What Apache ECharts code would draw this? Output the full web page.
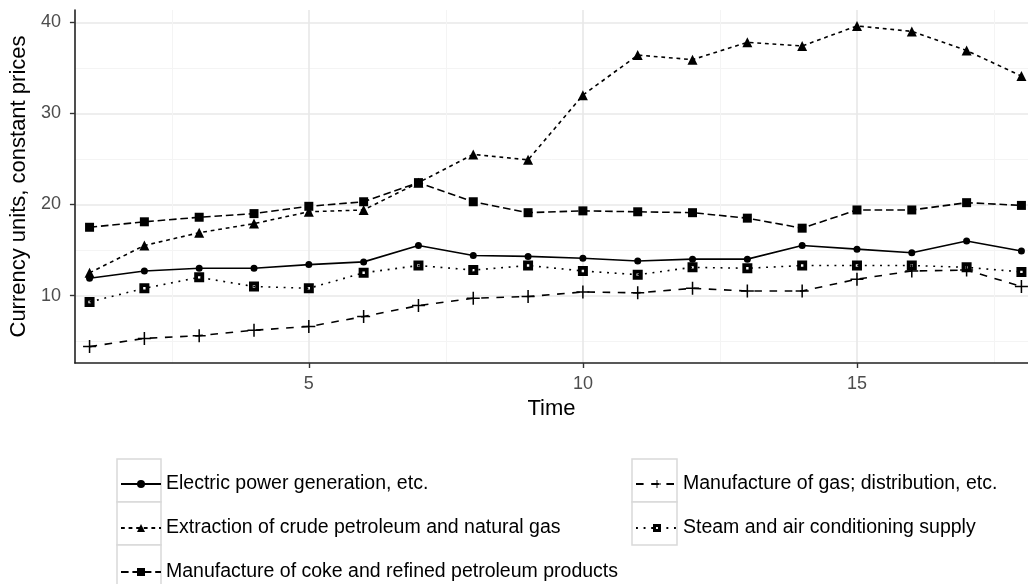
<!DOCTYPE html>
<html><head><meta charset="utf-8">
<script src="https://cdn.jsdelivr.net/npm/echarts@6/dist/echarts.min.js"></script>
<style>html,body{margin:0;padding:0;background:#fff}#c{width:1028px;height:584px}</style>
</head><body><div id="c"></div>
<script>
const time = [1,2,3,4,5,6,7,8,9,10,11,12,13,14,15,16,17,18];
const names = [
  'Electric power generation, etc.',
  'Extraction of crude petroleum and natural gas',
  'Manufacture of coke and refined petroleum products',
  'Manufacture of gas; distribution, etc.',
  'Steam and air conditioning supply'
];
const electric   = [11.9,12.7,13.0,13.0,13.4,13.7,15.5,14.4,14.3,14.1,13.8,14.0,14.0,15.5,15.1,14.7,16.0,14.9];
const extraction = [12.5,15.5,16.9,17.9,19.2,19.4,22.4,25.5,24.9,32.0,36.4,35.9,37.8,37.4,39.6,39.0,36.9,34.1];
const coke       = [17.5,18.1,18.6,19.0,19.8,20.3,22.4,20.3,19.1,19.3,19.2,19.1,18.5,17.4,19.4,19.4,20.2,19.9];
const gas        = [4.4,5.3,5.6,6.2,6.6,7.7,8.9,9.7,9.9,10.4,10.3,10.8,10.5,10.5,11.8,12.7,12.8,11.0];
const steam      = [9.3,10.8,12.0,11.0,10.8,12.5,13.3,12.8,13.3,12.7,12.3,13.1,13.0,13.3,13.3,13.3,13.1,12.6];
const xTicks = [5,10,15];
const xMinor = [2.5,7.5,12.5,17.5];
const yTicks = [10,20,30,40];
const yMinor = [5,15,25,35];

const FONT = 'Liberation Sans, Arial, sans-serif';
const XMIN = 0.733, XMAX = 18.12, YMIN = 2.6, YMAX = 41.35;
const plusPath = 'path://M5.3,0h1.4v5.3h5.3v1.4h-5.3v5.3h-1.4v-5.3h-5.3v-1.4h5.3z';
const steamPath = 'path://M0,0H10V10H0Z M3.8,3.8V6.2H6.2V3.8Z';

const styles = [
  {data: electric,   symbol: 'circle',   size: 7,  dash: 'solid'},
  {data: extraction, symbol: 'triangle', size: 10, dash: [3.8,3.8]},
  {data: coke,       symbol: 'rect',     size: 9,  dash: [7.6,3.8]},
  {data: gas,        symbol: plusPath,   size: 13, dash: [7.6,7.6]},
  {data: steam,      symbol: steamPath,  size: 10, dash: [1.9,5.7]}
];

const series = styles.map((s, i) => ({
  name: names[i],
  type: 'line',
  xAxisIndex: 0, yAxisIndex: 0,
  data: time.map((t, k) => [t, s.data[k]]),
  symbol: s.symbol,
  symbolSize: s.size,
  showAllSymbol: true,
  lineStyle: {color: '#000', width: 1.6, type: s.dash},
  itemStyle: {color: '#000'},
  emphasis: {disabled: true},
  z: 3
}));

const chart = echarts.init(document.getElementById('c'), null, {renderer: 'canvas'});
const grid = {left: 72, right: 0, top: 10, bottom: 221};
const boxStyle = {fill: '#fff', stroke: '#d9d9d9', lineWidth: 1.5};
const legendText = {fontSize: 19.5, lineHeight: 20, color: '#000', fontFamily: FONT};
chart.setOption({
  animation: false,
  backgroundColor: '#fff',
  textStyle: {fontFamily: FONT},
  grid: grid,
  xAxis: [{
    type: 'value', min: XMIN, max: XMAX, position: 'bottom',
    name: 'Time', nameLocation: 'middle', nameGap: 35,
    nameTextStyle: {fontSize: 22, color: '#000', fontFamily: FONT},
    axisLine: {show: true, onZero: false, lineStyle: {color: '#222', width: 1.6}},
    axisTick: {show: true, length: 5, customValues: xTicks, lineStyle: {color: '#333', width: 1.4}},
    axisLabel: {customValues: xTicks, fontSize: 18, color: '#4d4d4d', margin: 12, fontFamily: FONT},
    splitLine: {show: true, lineStyle: {color: '#e8e8e8', width: 1.6}}
  }, {
    type: 'value', min: XMIN, max: XMAX, position: 'top',
    axisLine: {show: false}, axisTick: {show: false, customValues: xMinor},
    axisLabel: {show: false, customValues: xMinor},
    splitLine: {show: true, lineStyle: {color: '#f4f4f4', width: 1}}
  }],
  yAxis: [{
    type: 'value', min: YMIN, max: YMAX, position: 'left',
    name: 'Currency units, constant prices', nameLocation: 'middle', nameGap: 44,
    nameTextStyle: {fontSize: 22, color: '#000', fontFamily: FONT},
    axisLine: {show: true, onZero: false, lineStyle: {color: '#222', width: 1.6}},
    axisTick: {show: true, length: 5, customValues: yTicks, lineStyle: {color: '#333', width: 1.4}},
    axisLabel: {customValues: yTicks, fontSize: 18, color: '#4d4d4d', margin: 14, fontFamily: FONT},
    splitLine: {show: true, lineStyle: {color: '#e8e8e8', width: 1.6}}
  }, {
    type: 'value', min: YMIN, max: YMAX, position: 'right',
    axisLine: {show: false}, axisTick: {show: false, customValues: yMinor},
    axisLabel: {show: false, customValues: yMinor},
    splitLine: {show: true, lineStyle: {color: '#f4f4f4', width: 1}}
  }],
  legend: [{
    left: 120, top: 474, orient: 'vertical', padding: 0,
    itemWidth: 40, itemHeight: 10, itemGap: 24, selectedMode: false,
    data: names.slice(0, 3),
    textStyle: legendText
  }, {
    left: 635, top: 474, orient: 'vertical', padding: 0,
    itemWidth: 42, itemHeight: 10, itemGap: 24, selectedMode: false,
    data: names.slice(3),
    textStyle: legendText
  }],
  graphic: [
    {type: 'rect', z: -1, shape: {x: 117, y: 459, width: 44, height: 43}, style: boxStyle},
    {type: 'rect', z: -1, shape: {x: 117, y: 502, width: 44, height: 43}, style: boxStyle},
    {type: 'rect', z: -1, shape: {x: 117, y: 545, width: 44, height: 43}, style: boxStyle},
    {type: 'rect', z: -1, shape: {x: 632, y: 459, width: 45, height: 43}, style: boxStyle},
    {type: 'rect', z: -1, shape: {x: 632, y: 502, width: 45, height: 43}, style: boxStyle}
  ],
  series: series
});
</script>
</body></html>
